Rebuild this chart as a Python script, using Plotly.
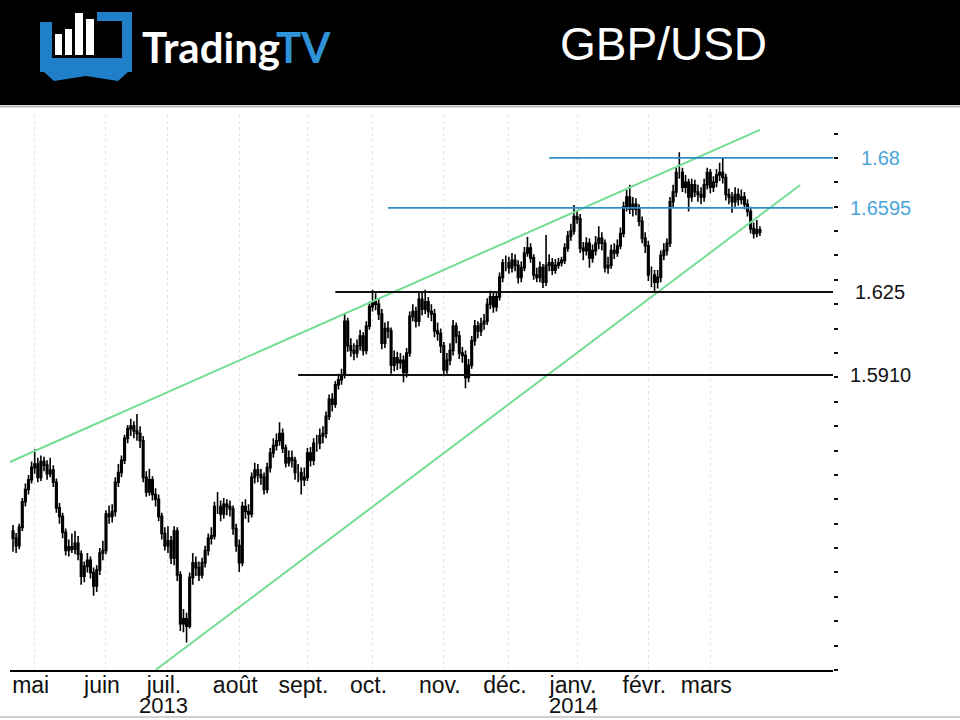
import pandas as pd
import plotly.graph_objects as go

# GBP/USD daily candles, 22 Apr 2013 -> 25 Mar 2014
opens = [
    1.5270, 1.5240, 1.5210, 1.5285, 1.5390, 1.5440, 1.5480, 1.5530, 1.5545, 1.5490,
    1.5555, 1.5540, 1.5505, 1.5520, 1.5470, 1.5365, 1.5330, 1.5265, 1.5190, 1.5205,
    1.5195, 1.5220, 1.5175, 1.5085, 1.5125, 1.5150, 1.5100, 1.5045, 1.5110, 1.5180,
    1.5190, 1.5340, 1.5330, 1.5350, 1.5470, 1.5510, 1.5560, 1.5650, 1.5690, 1.5700,
    1.5680, 1.5670, 1.5640, 1.5490, 1.5430, 1.5480, 1.5420, 1.5400, 1.5330, 1.5260,
    1.5210, 1.5230, 1.5160, 1.5270, 1.5090, 1.4890, 1.4910, 1.4880, 1.5080, 1.5140,
    1.5120, 1.5090, 1.5140, 1.5190, 1.5240, 1.5250, 1.5370, 1.5370, 1.5340, 1.5380,
    1.5370, 1.5360, 1.5280, 1.5210, 1.5140, 1.5370, 1.5350, 1.5340, 1.5490, 1.5520,
    1.5500, 1.5490, 1.5440, 1.5530, 1.5590, 1.5620, 1.5640, 1.5670, 1.5610, 1.5550,
    1.5570, 1.5560, 1.5510, 1.5510, 1.5480, 1.5490, 1.5590, 1.5560, 1.5630, 1.5630,
    1.5660, 1.5670, 1.5740, 1.5810, 1.5790, 1.5870, 1.5890, 1.5910, 1.6130, 1.6030,
    1.6010, 1.6000, 1.6030, 1.6070, 1.6010, 1.6110, 1.6190, 1.6210, 1.6200, 1.6160,
    1.6040, 1.6100, 1.6090, 1.5950, 1.5980, 1.5960, 1.5970, 1.5920, 1.6000, 1.6150,
    1.6170, 1.6130, 1.6220, 1.6180, 1.6210, 1.6170, 1.6160, 1.6090, 1.6080, 1.6030,
    1.5930, 1.5970, 1.6010, 1.6110, 1.6070, 1.6000, 1.5990, 1.5900, 1.5950, 1.6050,
    1.6110, 1.6090, 1.6120, 1.6130, 1.6200, 1.6230, 1.6190, 1.6230, 1.6310, 1.6370,
    1.6370, 1.6350, 1.6380, 1.6360, 1.6310, 1.6350, 1.6410, 1.6430, 1.6390, 1.6320,
    1.6310, 1.6350, 1.6290, 1.6360, 1.6370, 1.6340, 1.6360, 1.6370, 1.6380, 1.6430,
    1.6480, 1.6500, 1.6560, 1.6550, 1.6430, 1.6420, 1.6450, 1.6390, 1.6420, 1.6450,
    1.6470, 1.6450, 1.6350, 1.6360, 1.6420, 1.6410, 1.6440, 1.6490, 1.6600, 1.6640,
    1.6590, 1.6610, 1.6590, 1.6540, 1.6470, 1.6440, 1.6320, 1.6320, 1.6290, 1.6310,
    1.6400, 1.6420, 1.6450, 1.6620, 1.6660, 1.6740, 1.6740, 1.6680, 1.6700, 1.6640,
    1.6690, 1.6660, 1.6650, 1.6640, 1.6690, 1.6740, 1.6680, 1.6700, 1.6730, 1.6740,
    1.6720, 1.6650, 1.6640, 1.6620, 1.6650, 1.6630, 1.6640, 1.6610, 1.6580, 1.6510,
    1.6490, 1.6505,
]
highs = [
    1.5295, 1.5262, 1.5300, 1.5405, 1.5465, 1.5500, 1.5555, 1.5605, 1.5570, 1.5580,
    1.5575, 1.5560, 1.5570, 1.5540, 1.5485, 1.5385, 1.5345, 1.5280, 1.5235, 1.5260,
    1.5270, 1.5250, 1.5190, 1.5145, 1.5180, 1.5165, 1.5120, 1.5130, 1.5200, 1.5230,
    1.5355, 1.5375, 1.5380, 1.5490, 1.5545, 1.5580, 1.5665, 1.5705, 1.5730, 1.5720,
    1.5750, 1.5700, 1.5660, 1.5515, 1.5525, 1.5495, 1.5445, 1.5420, 1.5345, 1.5285,
    1.5290, 1.5250, 1.5290, 1.5285, 1.5105, 1.4950, 1.4935, 1.5100, 1.5180, 1.5165,
    1.5145, 1.5160, 1.5210, 1.5260, 1.5285, 1.5390, 1.5430, 1.5395, 1.5405, 1.5400,
    1.5395, 1.5375, 1.5300, 1.5235, 1.5390, 1.5400, 1.5380, 1.5510, 1.5550, 1.5545,
    1.5525, 1.5510, 1.5550, 1.5610, 1.5650, 1.5670, 1.5716, 1.5690, 1.5625, 1.5600,
    1.5600, 1.5575, 1.5545, 1.5530, 1.5530, 1.5610, 1.5615, 1.5650, 1.5665, 1.5690,
    1.5700, 1.5760, 1.5830, 1.5835, 1.5885, 1.5915, 1.5935, 1.6160, 1.6145, 1.6060,
    1.6040, 1.6055, 1.6095, 1.6085, 1.6130, 1.6210, 1.6259, 1.6245, 1.6225, 1.6180,
    1.6125, 1.6130, 1.6105, 1.6010, 1.6005, 1.6000, 1.5990, 1.6020, 1.6170, 1.6200,
    1.6190, 1.6250, 1.6250, 1.6259, 1.6230, 1.6200, 1.6180, 1.6125, 1.6100, 1.6045,
    1.6000, 1.6040, 1.6135, 1.6125, 1.6090, 1.6025, 1.6010, 1.5975, 1.6070, 1.6135,
    1.6130, 1.6145, 1.6160, 1.6225, 1.6255, 1.6250, 1.6250, 1.6330, 1.6385, 1.6400,
    1.6395, 1.6410, 1.6405, 1.6380, 1.6375, 1.6435, 1.6476, 1.6450, 1.6405, 1.6350,
    1.6375, 1.6365, 1.6484, 1.6405, 1.6390, 1.6385, 1.6390, 1.6395, 1.6450, 1.6500,
    1.6530, 1.6607, 1.6585, 1.6570, 1.6455, 1.6475, 1.6470, 1.6445, 1.6480, 1.6520,
    1.6495, 1.6465, 1.6395, 1.6445, 1.6450, 1.6465, 1.6515, 1.6620, 1.6668, 1.6690,
    1.6640, 1.6635, 1.6610, 1.6560, 1.6495, 1.6460, 1.6355, 1.6340, 1.6340, 1.6420,
    1.6450, 1.6470, 1.6640, 1.6690, 1.6760, 1.6823, 1.6760, 1.6730, 1.6715, 1.6715,
    1.6710, 1.6690, 1.6680, 1.6715, 1.6760, 1.6755, 1.6725, 1.6755, 1.6780, 1.6800,
    1.6735, 1.6675, 1.6660, 1.6680, 1.6675, 1.6670, 1.6660, 1.6630, 1.6600, 1.6535,
    1.6545, 1.6520,
]
lows = [
    1.5185, 1.5180, 1.5195, 1.5270, 1.5370, 1.5420, 1.5465, 1.5505, 1.5470, 1.5475,
    1.5515, 1.5480, 1.5490, 1.5450, 1.5345, 1.5300, 1.5240, 1.5170, 1.5165, 1.5180,
    1.5175, 1.5150, 1.5050, 1.5060, 1.5100, 1.5075, 1.5005, 1.5020, 1.5090, 1.5150,
    1.5175, 1.5300, 1.5305, 1.5330, 1.5450, 1.5490, 1.5545, 1.5630, 1.5660, 1.5650,
    1.5640, 1.5610, 1.5470, 1.5410, 1.5415, 1.5395, 1.5370, 1.5310, 1.5235, 1.5190,
    1.5180, 1.5135, 1.5130, 1.5065, 1.4860, 1.4855, 1.4813, 1.4870, 1.5050, 1.5085,
    1.5065, 1.5075, 1.5120, 1.5170, 1.5215, 1.5235, 1.5340, 1.5310, 1.5320, 1.5335,
    1.5330, 1.5255, 1.5185, 1.5102, 1.5125, 1.5320, 1.5305, 1.5325, 1.5465, 1.5470,
    1.5460, 1.5420, 1.5425, 1.5510, 1.5570, 1.5600, 1.5620, 1.5590, 1.5530, 1.5535,
    1.5530, 1.5480, 1.5470, 1.5420, 1.5455, 1.5475, 1.5535, 1.5540, 1.5595, 1.5605,
    1.5630, 1.5650, 1.5725, 1.5760, 1.5775, 1.5850, 1.5870, 1.5895, 1.6005, 1.5985,
    1.5970, 1.5980, 1.6010, 1.5990, 1.5995, 1.6095, 1.6170, 1.6175, 1.6135, 1.6015,
    1.6020, 1.6060, 1.5915, 1.5925, 1.5930, 1.5935, 1.5880, 1.5900, 1.5985, 1.6130,
    1.6105, 1.6110, 1.6155, 1.6160, 1.6145, 1.6130, 1.6065, 1.6050, 1.6000, 1.5905,
    1.5915, 1.5950, 1.5990, 1.6040, 1.5975, 1.5960, 1.5855, 1.5880, 1.5935, 1.6030,
    1.6060, 1.6070, 1.6095, 1.6115, 1.6180, 1.6165, 1.6170, 1.6215, 1.6290, 1.6335,
    1.6325, 1.6330, 1.6335, 1.6285, 1.6290, 1.6335, 1.6395, 1.6370, 1.6300, 1.6290,
    1.6290, 1.6267, 1.6275, 1.6335, 1.6320, 1.6325, 1.6345, 1.6355, 1.6365, 1.6415,
    1.6460, 1.6485, 1.6530, 1.6410, 1.6380, 1.6400, 1.6350, 1.6370, 1.6400, 1.6425,
    1.6420, 1.6330, 1.6325, 1.6345, 1.6385, 1.6395, 1.6425, 1.6475, 1.6580, 1.6570,
    1.6560, 1.6565, 1.6520, 1.6450, 1.6410, 1.6295, 1.6270, 1.6252, 1.6265, 1.6290,
    1.6380, 1.6400, 1.6435, 1.6595, 1.6640, 1.6715, 1.6660, 1.6655, 1.6580, 1.6620,
    1.6640, 1.6620, 1.6610, 1.6620, 1.6670, 1.6655, 1.6660, 1.6680, 1.6705, 1.6695,
    1.6625, 1.6610, 1.6575, 1.6600, 1.6605, 1.6610, 1.6590, 1.6560, 1.6490, 1.6470,
    1.6475, 1.6480,
]
closes = [
    1.5240, 1.5210, 1.5285, 1.5390, 1.5440, 1.5480, 1.5530, 1.5545, 1.5490, 1.5555,
    1.5540, 1.5505, 1.5520, 1.5470, 1.5365, 1.5330, 1.5265, 1.5190, 1.5205, 1.5195,
    1.5220, 1.5175, 1.5085, 1.5125, 1.5150, 1.5100, 1.5045, 1.5110, 1.5180, 1.5190,
    1.5340, 1.5330, 1.5350, 1.5470, 1.5510, 1.5560, 1.5650, 1.5690, 1.5700, 1.5680,
    1.5670, 1.5640, 1.5490, 1.5430, 1.5480, 1.5420, 1.5400, 1.5330, 1.5260, 1.5210,
    1.5230, 1.5160, 1.5270, 1.5090, 1.4890, 1.4910, 1.4880, 1.5080, 1.5140, 1.5120,
    1.5090, 1.5140, 1.5190, 1.5240, 1.5250, 1.5370, 1.5370, 1.5340, 1.5380, 1.5370,
    1.5360, 1.5280, 1.5210, 1.5140, 1.5370, 1.5350, 1.5340, 1.5490, 1.5520, 1.5500,
    1.5490, 1.5440, 1.5530, 1.5590, 1.5620, 1.5640, 1.5670, 1.5610, 1.5550, 1.5570,
    1.5560, 1.5510, 1.5510, 1.5480, 1.5490, 1.5590, 1.5560, 1.5630, 1.5630, 1.5660,
    1.5670, 1.5740, 1.5810, 1.5790, 1.5870, 1.5890, 1.5910, 1.6130, 1.6030, 1.6010,
    1.6000, 1.6030, 1.6070, 1.6010, 1.6110, 1.6190, 1.6210, 1.6200, 1.6160, 1.6040,
    1.6100, 1.6090, 1.5950, 1.5980, 1.5960, 1.5970, 1.5920, 1.6000, 1.6150, 1.6170,
    1.6130, 1.6220, 1.6180, 1.6210, 1.6170, 1.6160, 1.6090, 1.6080, 1.6030, 1.5930,
    1.5970, 1.6010, 1.6110, 1.6070, 1.6000, 1.5990, 1.5900, 1.5950, 1.6050, 1.6110,
    1.6090, 1.6120, 1.6130, 1.6200, 1.6230, 1.6190, 1.6230, 1.6310, 1.6370, 1.6370,
    1.6350, 1.6380, 1.6360, 1.6310, 1.6350, 1.6410, 1.6430, 1.6390, 1.6320, 1.6310,
    1.6350, 1.6290, 1.6360, 1.6370, 1.6340, 1.6360, 1.6370, 1.6380, 1.6430, 1.6480,
    1.6500, 1.6560, 1.6550, 1.6430, 1.6420, 1.6450, 1.6390, 1.6420, 1.6450, 1.6470,
    1.6450, 1.6350, 1.6360, 1.6420, 1.6410, 1.6440, 1.6490, 1.6600, 1.6640, 1.6590,
    1.6610, 1.6590, 1.6540, 1.6470, 1.6440, 1.6320, 1.6320, 1.6290, 1.6310, 1.6400,
    1.6420, 1.6450, 1.6620, 1.6660, 1.6740, 1.6740, 1.6680, 1.6700, 1.6640, 1.6690,
    1.6660, 1.6650, 1.6640, 1.6690, 1.6740, 1.6680, 1.6700, 1.6730, 1.6740, 1.6720,
    1.6650, 1.6640, 1.6620, 1.6650, 1.6630, 1.6640, 1.6610, 1.6580, 1.6510, 1.6490,
    1.6505, 1.6495,
]
dates = pd.bdate_range("2013-04-22", periods=len(closes))

month_ticks = ["2013-05-01", "2013-06-03", "2013-07-01", "2013-08-01", "2013-09-02",
               "2013-10-01", "2013-11-01", "2013-12-02", "2014-01-01", "2014-02-03",
               "2014-03-03"]
month_labels = ["mai", "juin", "juil.", "août", "sept.", "oct.", "nov.", "déc.",
                "janv.", "févr.", "mars"]
year_ticks = ["2013-07-01", "2014-01-01"]
year_labels = ["2013", "2014"]

# support / resistance levels: start date, value, label, colour
level_starts = ["2013-12-19", "2013-10-08", "2013-09-13", "2013-08-28"]
level_values = [1.68, 1.6595, 1.625, 1.5910]
level_labels = ["1.68", "1.6595", "1.625", "1.5910"]
level_colors = ["#2c8fc6", "#2c8fc6", "#111111", "#111111"]
label_colors = ["#4aa6da", "#4aa6da", "#111111", "#111111"]

# channel trend lines
upper_x = ["2013-04-19", "2014-03-25"]
upper_y = [1.5553, 1.6915]
lower_x = ["2013-06-25", "2014-04-11"]
lower_y = [1.4700, 1.6689]

x_range = ["2013-04-19 00:45", "2014-04-25 14:00"]
y_range = [1.470, 1.6976]

W, H = 960, 720
L, R, T, B = 10, 127, 115, 50


def px(x):
    return (x - L) / (W - L - R)


def py(y):
    return (H - B - y) / (H - T - B)


fig = go.Figure()

fig.add_candlestick(
    x=dates, open=opens, high=highs, low=lows, close=closes,
    increasing=dict(line=dict(color="black", width=1.6), fillcolor="white"),
    decreasing=dict(line=dict(color="black", width=1.6), fillcolor="black"),
    whiskerwidth=0, showlegend=False, hoverinfo="skip",
)

green = "#74dd94"
fig.add_scatter(x=upper_x, y=upper_y, mode="lines", line=dict(color=green, width=2),
                showlegend=False, hoverinfo="skip")
fig.add_scatter(x=lower_x, y=lower_y, mode="lines", line=dict(color=green, width=2),
                showlegend=False, hoverinfo="skip")

for start, val, lab, col, lcol in zip(level_starts, level_values, level_labels,
                                      level_colors, label_colors):
    fig.add_shape(type="line", xref="x", yref="y", x0=start, x1=x_range[1], y0=val, y1=val,
                  line=dict(color=col, width=2 if col == "#111111" else 1.6))
    fig.add_annotation(xref="paper", yref="y", x=px(880), y=val, text=lab, showarrow=False,
                       xanchor="center", font=dict(family="Liberation Sans", size=20, color=lcol))

for d, lab in zip(year_ticks, year_labels):
    fig.add_annotation(xref="x", yref="paper", x=d, y=py(705), text=lab, showarrow=False,
                       xanchor="center", yanchor="middle", xshift=-4,
                       font=dict(family="Liberation Sans", size=22, color="#111111"))

# header band with logo
blue = "#1f7fc8"
fig.add_shape(type="rect", xref="paper", yref="paper", x0=px(0), x1=px(960), y0=py(105), y1=py(0),
              fillcolor="black", line_width=0, layer="above")
fig.add_shape(type="line", xref="paper", yref="paper", x0=px(0), x1=px(960), y0=py(106.5), y1=py(106.5),
              line=dict(color="#b8b8b8", width=2))
fig.add_shape(type="line", xref="paper", yref="paper", x0=px(0), x1=px(960), y0=py(717), y1=py(717),
              line=dict(color="#cfcfcf", width=2))
for x0, y0, x1, y1, c in [
    (40, 22, 52, 72, blue), (40, 58, 132, 72, blue), (97, 12, 132, 21, blue), (122, 12, 132, 72, blue),
    (55, 34, 62, 55, "white"), (65, 29, 72, 55, "white"), (75, 13, 83, 55, "white"), (86, 19, 94, 55, "white"),
]:
    fig.add_shape(type="rect", xref="paper", yref="paper", x0=px(x0), x1=px(x1), y0=py(y1), y1=py(y0),
                  fillcolor=c, line_width=0, layer="above")
fig.add_shape(type="path", xref="paper", yref="paper", layer="above", fillcolor=blue, line_width=0,
              path=f"M {px(44)} {py(72)} L {px(128)} {py(72)} L {px(118)} {py(81)} "
                   f"L {px(86)} {py(76)} L {px(54)} {py(81)} Z")
fig.add_annotation(xref="paper", yref="paper", x=px(140), y=py(47), xanchor="left", yanchor="middle",
                   text="Trading<span style='color:#2f93d8'>TV</span>", showarrow=False,
                   font=dict(family="Lato", size=42, color="white", weight="bold"))
fig.add_annotation(xref="paper", yref="paper", x=px(663), y=py(44), xanchor="center", yanchor="middle",
                   text="GBP/USD", showarrow=False,
                   font=dict(family="Liberation Sans", size=46, color="white"))

fig.update_xaxes(
    type="date", range=x_range, rangebreaks=[dict(bounds=["sat", "mon"])],
    rangeslider_visible=False, tickvals=month_ticks, ticktext=month_labels,
    tickfont=dict(family="Liberation Sans", size=23, color="#111111"), ticks="",
    ticklabelstandoff=-7, ticklabelshift=-4,
    showgrid=True, griddash="dot", gridcolor="#e6e6e6", gridwidth=1,
    showline=True, linecolor="black", linewidth=2, zeroline=False,
)
fig.update_yaxes(
    range=y_range, side="right", tick0=1.47, dtick=0.01, ticks="outside", ticklen=4,
    tickwidth=2, tickcolor="#111111", showticklabels=False, showgrid=False,
    zeroline=False, showline=False,
)
fig.update_layout(
    width=W, height=H, margin=dict(l=L, r=R, t=T, b=B),
    paper_bgcolor="white", plot_bgcolor="white", showlegend=False,
)

fig.write_html("out.html", config={"displayModeBar": False},
               post_script="document.body.style.margin='0';")
